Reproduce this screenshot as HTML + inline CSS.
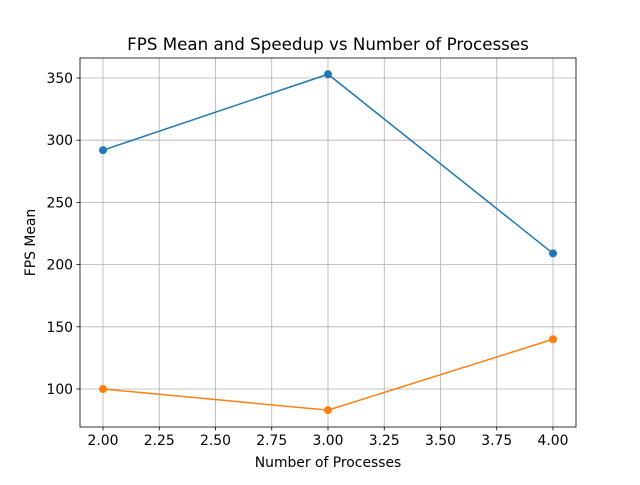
<!DOCTYPE html>
<html><head><meta charset="utf-8"><style>
body{margin:0;background:#fff;}
svg text{font-family:"DejaVu Sans","Liberation Sans",sans-serif;fill:#000;}
</style></head><body>
<svg id="chart" width="640" height="480"></svg>
<script>
const processes=[2,3,4];
const fpsMean=[292,353,209];
const speedup=[100,83,140];
const xTicks=[2.0,2.25,2.5,2.75,3.0,3.25,3.5,3.75,4.0];
const xTickLabels=["2.00","2.25","2.50","2.75","3.00","3.25","3.50","3.75","4.00"];
const yTicks=[100,150,200,250,300,350];

const L=80,R=576,T=58,B=427;
const sx=v=>103+(v-2)*225;
const sy=v=>389-(v-100)*(311/250);
const svg=document.getElementById('chart');
const NS='http://www.w3.org/2000/svg';
function mk(tag,attrs,parent){const e=document.createElementNS(NS,tag);for(const k in attrs)e.setAttribute(k,attrs[k]);(parent||svg).appendChild(e);return e;}

const grid=mk('g',{});


xTicks.forEach((t,i)=>{
  const x=sx(t);
  mk('line',{x1:x,x2:x,y1:T,y2:B,stroke:'#b0b0b0','stroke-width':0.8},grid);
  mk('line',{x1:x,x2:x,y1:B,y2:B+3.5,stroke:'#000','stroke-width':0.8});
  const tx=mk('text',{x:x,y:B+18,'font-size':13.9,'text-anchor':'middle'});
  tx.textContent=xTickLabels[i];
  
  
});
yTicks.forEach(t=>{
  const y=sy(t);
  mk('line',{x1:L,x2:R,y1:y,y2:y,stroke:'#b0b0b0','stroke-width':0.8},grid);
  mk('line',{x1:L-3.5,x2:L,y1:y,y2:y,stroke:'#000','stroke-width':0.8});
  const tx=mk('text',{x:L-7,y:y+5,'font-size':13.9,'text-anchor':'end'});
  tx.textContent=t;
  
  
});

function series(vals,color,name){
  const g=mk('g',{});
  
  
  mk('polyline',{points:processes.map((p,i)=>sx(p)+','+sy(vals[i])).join(' '),fill:'none',stroke:color,'stroke-width':1.5},g);
  processes.forEach((p,i)=>{
    const c=mk('circle',{cx:sx(p),cy:sy(vals[i]),r:4,fill:color},g);
    
    
  });
}
series(fpsMean,'#1f77b4','fps-mean-series');
series(speedup,'#ff7f0e','speedup-series');

const frame=mk('rect',{x:L,y:T,width:R-L,height:B-T,fill:'none',stroke:'#000','stroke-width':0.8});



const title=mk('text',{x:(L+R)/2,y:50,'font-size':16.7,'text-anchor':'middle'});
title.textContent='FPS Mean and Speedup vs Number of Processes';


const xl=mk('text',{x:(L+R)/2,y:467,'font-size':13.9,'text-anchor':'middle'});
xl.textContent='Number of Processes';


const yl=mk('text',{x:35,y:(T+B)/2,'font-size':13.9,'text-anchor':'middle',transform:'rotate(-90 35 '+((T+B)/2)+')'});
yl.textContent='FPS Mean';


</script>
</body></html>
